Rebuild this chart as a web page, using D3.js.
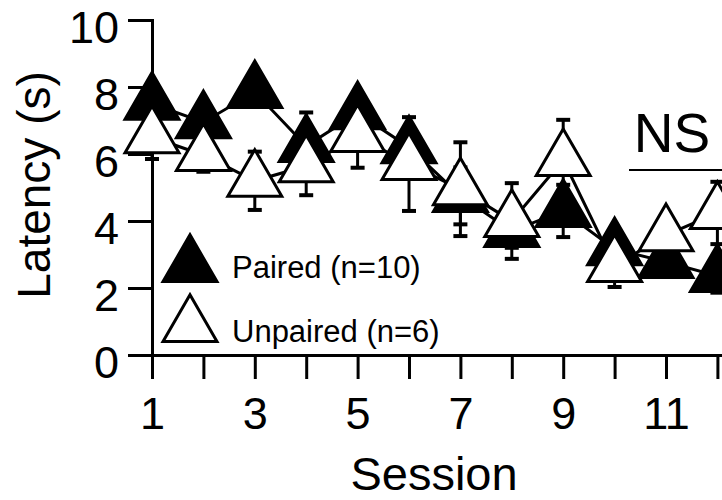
<!DOCTYPE html>
<html>
<head>
<meta charset="utf-8">
<script src="https://cdn.jsdelivr.net/npm/d3@7"></script>
<style>
	body { margin: 0; background: #fff; }
	svg { display: block; font-family: 'Liberation Sans', Arial, sans-serif; }
	.axis path, .axis line { stroke: #000; stroke-width: 3; }
	.axis text { fill: #000; }
</style>
</head>
<body>
<div id="chart"></div>
<script>
// data (latency in s, mean and SEM per session)
const sessions = [1, 2, 3, 4, 5, 6, 7, 8, 9, 10, 11, 12];
const pairedMean = [7.5, 6.95, 7.85, 6.24, 7.22, 6.2, 4.75, 3.7, 4.3, 3.16, 2.78, 2.36];
const pairedSem = [0.3, 0.3, 0.3, 1.0, 0.3, 0.4, 0.85, 0.5, 0.78, 0.4, 0.4, 0.5];
const unpairedMean = [6.5, 5.97, 5.2, 5.64, 6.54, 5.7, 4.95, 4.0, 5.82, 2.66, 3.58, 4.24];
const unpairedSem = [0.65, 0.5, 0.87, 0.87, 0.95, 1.4, 1.4, 1.13, 1.2, 0.63, 0.4, 0.93];
const xTicks = [1, 2, 3, 4, 5, 6, 7, 8, 9, 10, 11, 12, 13];
const xLabels = [1, 3, 5, 7, 9, 11];
const yTicks = [0, 2, 4, 6, 8, 10];

const series = [
	{ key: 'Paired (n=10)', fill: '#000', mean: pairedMean, sem: pairedSem },
	{ key: 'Unpaired (n=6)', fill: '#fff', mean: unpairedMean, sem: unpairedSem }
];

const width = 722;
const height = 500;

// scales
const scaleX = d3.scaleLinear().domain([1, 13]).range([152, 152 + 12 * 51.4]);
const scaleY = d3.scaleLinear().domain([0, 10]).range([355, 20]);

const triangle = d3.symbol().type(d3.symbolTriangle).size(1260);

const $svg = d3.select('#chart').append('svg')
	.attr('width', width)
	.attr('height', height);

// axes
const axisY = d3.axisLeft(scaleY)
	.tickValues(yTicks)
	.tickSize(24)
	.tickSizeOuter(0)
	.tickPadding(9);

const $axisY = $svg.append('g')
	.attr('class', 'axis axis--y')
	.attr('transform', `translate(${scaleX(1)}, 0)`)
	.call(axisY);
$axisY.selectAll('text')
	.attr('font-size', 45)
	.attr('dy', '0.5em');

const axisX = d3.axisBottom(scaleX)
	.tickValues(xTicks)
	.tickSize(24)
	.tickSizeOuter(0)
	.tickPadding(18)
	.tickFormat(d => (xLabels.includes(d) ? d : ''));

const $axisX = $svg.append('g')
	.attr('class', 'axis axis--x')
	.attr('transform', `translate(0, ${scaleY(0)})`)
	.call(axisX);
$axisX.selectAll('text').attr('font-size', 45);
// drop empty labels
$axisX.selectAll('.tick text').filter(d => !xLabels.includes(d)).remove();
$svg.selectAll('.axis .domain').attr('stroke-linecap', 'square');

// axis titles
$svg.append('text')
	.attr('transform', 'translate(50, 185) rotate(-90)')
	.attr('text-anchor', 'middle')
	.attr('font-size', 46)
	.text('Latency (s)');

$svg.append('text')
	.attr('x', 434)
	.attr('y', 490)
	.attr('text-anchor', 'middle')
	.attr('font-size', 47)
	.text('Session');

// lines first, markers on top
const line = d3.line()
	.x((d, i) => scaleX(sessions[i]))
	.y(d => scaleY(d));

$svg.append('g')
	.selectAll('path')
	.data(series)
	.join('path')
	.attr('d', d => line(d.mean))
	.attr('fill', 'none')
	.attr('stroke', '#000')
	.attr('stroke-width', 3);

series.forEach(s => {
	const pts = sessions.map((x, i) => ({ x, m: s.mean[i], e: s.sem[i] }));
	const $g = $svg.append('g');

	const $err = $g.selectAll('g.err').data(pts).join('g').attr('class', 'err');
	$err.append('line')
		.attr('x1', d => scaleX(d.x)).attr('x2', d => scaleX(d.x))
		.attr('y1', d => scaleY(d.m - d.e)).attr('y2', d => scaleY(d.m + d.e))
		.attr('stroke', '#000').attr('stroke-width', 3);
	[-1, 1].forEach(sign => {
		$err.append('line')
			.attr('x1', d => scaleX(d.x) - 7).attr('x2', d => scaleX(d.x) + 7)
			.attr('y1', d => scaleY(d.m + sign * d.e)).attr('y2', d => scaleY(d.m + sign * d.e))
			.attr('stroke', '#000').attr('stroke-width', 4);
	});

	$g.selectAll('path.mark').data(pts).join('path')
		.attr('class', 'mark')
		.attr('transform', d => `translate(${scaleX(d.x)}, ${scaleY(d.m)})`)
		.attr('d', triangle)
		.attr('fill', s.fill)
		.attr('stroke', '#000')
		.attr('stroke-width', 3)
		.attr('stroke-linejoin', 'miter');
});

// significance
$svg.append('text')
	.attr('x', 672)
	.attr('y', 152)
	.attr('text-anchor', 'middle')
	.attr('font-size', 55)
	.text('NS');
$svg.append('line')
	.attr('x1', 629).attr('x2', width + 10)
	.attr('y1', 170).attr('y2', 170)
	.attr('stroke', '#000').attr('stroke-width', 2);

// legend
const $legend = $svg.append('g').attr('class', 'legend');
const $item = $legend.selectAll('g').data(series).join('g')
	.attr('transform', (d, i) => `translate(190, ${266 + i * 60})`);
$item.append('path')
	.attr('d', triangle)
	.attr('fill', d => d.fill)
	.attr('stroke', '#000')
	.attr('stroke-width', 3);
$item.append('text')
	.attr('x', 42)
	.attr('y', (d, i) => 12 + i * 4)
	.attr('font-size', 31)
	.text(d => d.key);
</script>
</body>
</html>
